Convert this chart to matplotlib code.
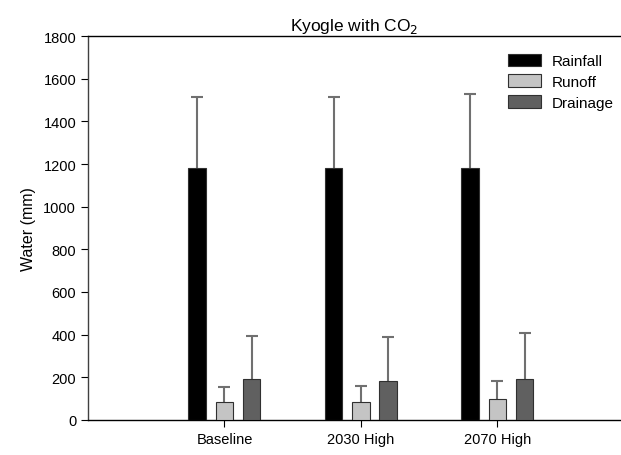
import numpy as np
import matplotlib.pyplot as plt

plt.rcParams['font.family'] = ['Liberation Sans', 'DejaVu Sans']

scenarios = ['Baseline', '2030 High', '2070 High']
rainfall = [1180, 1180, 1180]
rainfall_err = [333, 336, 348]
runoff = [84, 86, 97]
runoff_err = [72, 74, 86]
drainage = [191, 185, 193]
drainage_err = [202, 205, 215]

series = [
    ('Rainfall', rainfall, rainfall_err, '#000000'),
    ('Runoff', runoff, runoff_err, '#c4c4c4'),
    ('Drainage', drainage, drainage_err, '#606060'),
]

fig = plt.figure(figsize=(6.21, 4.56), dpi=100)
ax = fig.add_axes([0.1417, 0.0768, 0.857, 0.842])

x = np.arange(1, len(scenarios) + 1)
w = 0.128
step = 0.2
for k, (name, vals, errs, col) in enumerate(series):
    pos = x + (k - 1) * step
    ax.bar(pos, vals, width=w, color=col, edgecolor='#303030', linewidth=0.8,
           label=name, zorder=3)
    # symmetric bars drawn behind, so only the upper half shows
    ax.errorbar(pos, vals, yerr=errs, fmt='none',
                ecolor='#707070', elinewidth=1.5, capsize=4.3, capthick=1.5,
                zorder=2)

ax.set_xlim(0, 3.9)
ax.set_ylim(0, 1800)
ax.set_yticks(np.arange(0, 1801, 200))
ax.set_xticks(x)
ax.set_xticklabels(scenarios, fontsize=10.5)
ax.tick_params(axis='y', labelsize=10.5, length=5, direction='out')
ax.tick_params(axis='x', length=5, direction='out')
ax.spines['right'].set_visible(False)
for s in ['left', 'bottom', 'top']:
    ax.spines[s].set_linewidth(1.0)
ax.spines['left'].set_color('#404040')

ax.set_ylabel('Water (mm)', fontsize=11.5, labelpad=5)
ax.set_title('Kyogle with CO$_2$', fontsize=12.5, pad=4)

ax.legend(loc='upper right', frameon=False, fontsize=11, handlelength=2.2,
          handleheight=0.9, labelspacing=0.4, handletextpad=0.65,
          bbox_to_anchor=(1.013, 0.99))

fig.savefig('out.png', dpi=100)
